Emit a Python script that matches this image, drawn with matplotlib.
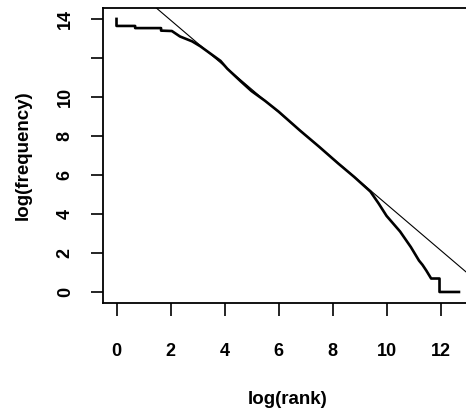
import matplotlib
matplotlib.use("Agg")
import matplotlib.pyplot as plt

# rank-frequency curve (natural logs)
log_rank = [0.0, 0.0, 0.69, 0.69, 1.65, 1.65, 2.05, 2.35, 2.8, 3.1, 3.5, 3.85,
            4.1, 4.6, 5.0, 5.5, 6.0, 6.8, 7.5, 8.2, 8.8, 9.4, 9.7, 10.0, 10.5,
            10.9, 11.2, 11.2, 11.33, 11.33, 11.47, 11.47, 11.65, 11.65, 11.96,
            11.96, 12.68]
log_freq = [14.0, 13.64, 13.64, 13.53, 13.53, 13.4, 13.38, 13.1, 12.85, 12.6,
            12.2, 11.85, 11.45, 10.8, 10.3, 9.8, 9.25, 8.27, 7.45, 6.6, 5.9,
            5.15, 4.55, 3.9, 3.1, 2.3, 1.61, 1.61, 1.39, 1.39, 1.1, 1.1, 0.69,
            0.69, 0.69, 0.0, 0.0]

# fitted line: log(freq) = a + b * log(rank)
fit_a = 16.3
fit_b = -1.18

x_ticks = [0, 2, 4, 6, 8, 10, 12]
y_ticks = [0, 2, 4, 6, 8, 10, 12, 14]
y_tick_labels = ["0", "2", "4", "6", "8", "10", "", "14"]

plt.rcParams['font.family'] = ['Liberation Sans', 'DejaVu Sans']

fig = plt.figure(figsize=(4.66, 4.08), dpi=100)
ax = fig.add_axes([103 / 466, (408 - 302.7) / 408, 370 / 466, 294.7 / 408])

ax.plot(log_rank, log_freq, color='black', linewidth=1.9)
ax.axline((0, fit_a), slope=fit_b, color='black', linewidth=0.8)

ax.set_xlim(-0.5, 13.2)
ax.set_ylim(-0.55, 14.56)

ax.set_xticks(x_ticks)
ax.set_xticklabels([str(t) for t in x_ticks], fontsize=13, fontweight='bold')
ax.set_yticks(y_ticks)
ax.set_yticklabels(y_tick_labels, fontsize=13, fontweight='bold')
for lab in ax.get_yticklabels():
    lab.set_rotation(90)
    lab.set_va('center')

ax.tick_params(axis='x', length=9, width=1.2, pad=20)
ax.tick_params(axis='y', length=9, width=1.2, pad=12)

for sp in ax.spines.values():
    sp.set_linewidth(1.3)

ax.set_xlabel("log(rank)", fontsize=13.5, fontweight='bold', labelpad=22)
ax.set_ylabel("log(frequency)", fontsize=13.5, fontweight='bold', labelpad=18)

fig.savefig("out.png", dpi=100)
